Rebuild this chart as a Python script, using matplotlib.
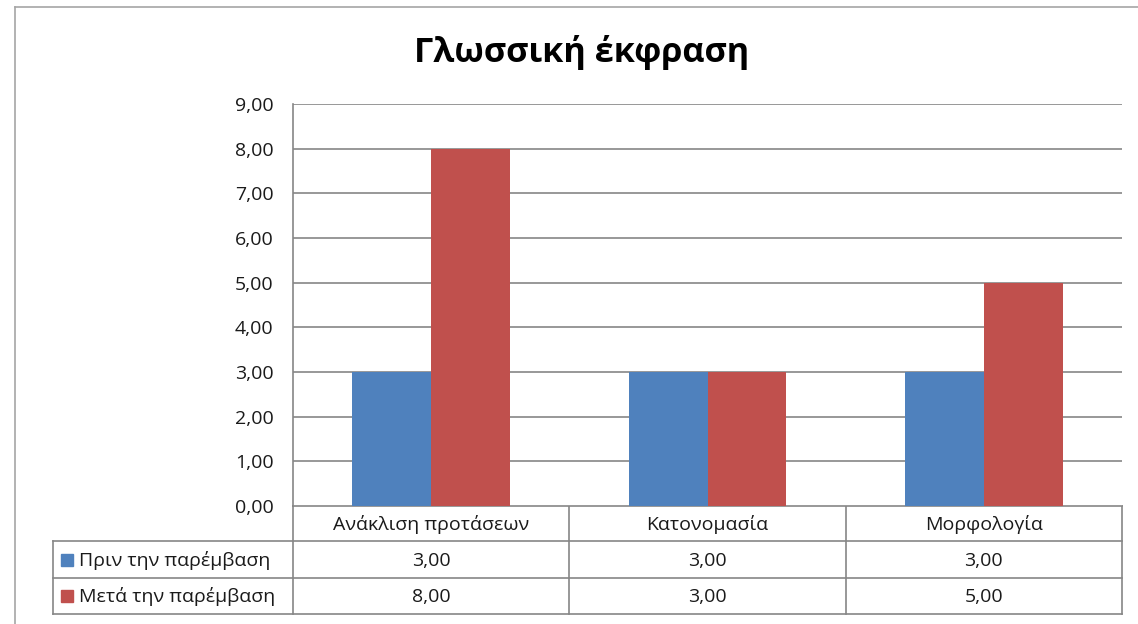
import matplotlib
matplotlib.use("Agg")
import matplotlib.pyplot as plt
import numpy as np
from matplotlib.patches import Rectangle

plt.rcParams["font.family"] = ["Open Sans", "Noto Sans", "DejaVu Sans"]

TITLE = "Γλωσσική έκφραση"
categories = ["Ανάκλιση προτάσεων", "Κατονομασία", "Μορφολογία"]
series_names = ["Πριν την παρέμβαση", "Μετά την παρέμβαση"]
before = [3.0, 3.0, 3.0]
after = [8.0, 3.0, 5.0]
colors = ["#4F81BD", "#C0504D"]

W, H = 1138, 624
GRID = "#868686"
TEXT = "#1a1a1a"
FS = 14


def fx(px):
    return px / W


def fy(py):
    return 1 - py / H


fig = plt.figure(figsize=(W / 100, H / 100), dpi=100)

# chart frame (left and top edges visible in the crop)
frame = fig.add_axes([0, 0, 1, 1])
frame.set_xlim(0, W)
frame.set_ylim(H, 0)
frame.axis("off")
frame.plot([15, 15], [7, H], color="#a6a6a6", lw=1.2)
frame.plot([15, W], [7, 7], color="#a6a6a6", lw=1.2)

fig.text(fx(582), fy(52), TITLE, ha="center", va="center",
         fontsize=24.7, fontweight="bold", color="black")

# plot area
left, right, top, bottom = 293, 1122, 104, 506
ax = fig.add_axes([fx(left), fy(bottom), fx(right - left), (bottom - top) / H])
x = np.arange(len(categories))
w = 1 / 3.5
ax.bar(x - w / 2, before, width=w, color=colors[0], zorder=3)
ax.bar(x + w / 2, after, width=w, color=colors[1], zorder=3)
ax.set_xlim(-0.5, len(categories) - 0.5)
ax.set_ylim(0, 9)
ax.set_yticks(np.arange(0, 10, 1))
ax.set_yticklabels([f"{v:.2f}".replace(".", ",") for v in np.arange(0, 10, 1)],
                   fontsize=FS, color=TEXT)
ax.tick_params(axis="y", length=0, pad=14)
ax.set_xticks([])
ax.grid(axis="y", color=GRID, lw=1.2, zorder=0)
for s in ["top", "right", "bottom"]:
    ax.spines[s].set_visible(False)
ax.spines["left"].set_color(GRID)
ax.spines["left"].set_linewidth(1.2)

# data table
col_edges = [left + i * (right - left) / 3 for i in range(4)]
row_edges = [506, 541, 578, 614]
tleft = 53
lc = GRID
lw = 1.2
for xe in col_edges:
    frame.plot([xe, xe], [row_edges[0], row_edges[3]], color=lc, lw=lw)
frame.plot([tleft, tleft], [row_edges[1], row_edges[3]], color=lc, lw=lw)
frame.plot([left, right], [row_edges[0], row_edges[0]], color=lc, lw=lw)
for ye in row_edges[1:]:
    frame.plot([tleft, right], [ye, ye], color=lc, lw=lw)

for i, cat in enumerate(categories):
    cx = (col_edges[i] + col_edges[i + 1]) / 2
    frame.text(cx, (row_edges[0] + row_edges[1]) / 2 + 1, cat, ha="center",
               va="center", fontsize=FS, color=TEXT)
    for r, vals in enumerate([before, after]):
        cy = (row_edges[r + 1] + row_edges[r + 2]) / 2 + 1
        frame.text(cx, cy, f"{vals[i]:.2f}".replace(".", ","), ha="center",
                   va="center", fontsize=FS, color=TEXT)

for r, name in enumerate(series_names):
    cy = (row_edges[r + 1] + row_edges[r + 2]) / 2
    frame.add_patch(Rectangle((61, cy - 6), 12, 12, color=colors[r]))
    frame.text(79, cy + 1, name, ha="left", va="center", fontsize=FS, color=TEXT)

fig.savefig("out.png", dpi=100)
